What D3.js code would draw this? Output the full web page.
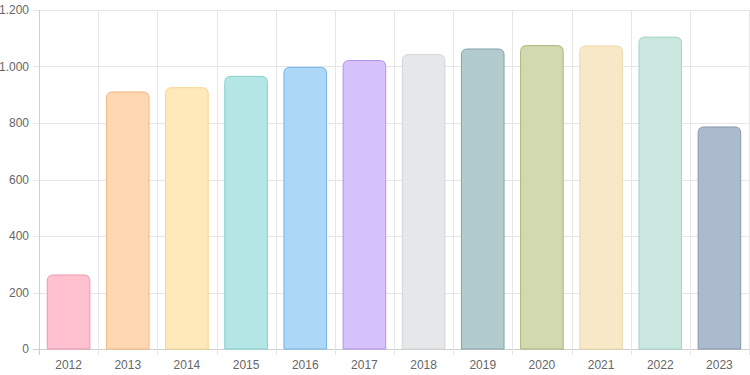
<!DOCTYPE html>
<html lang="de">
<head>
    <meta charset="UTF-8">
    <title>Balkendiagramm 2012-2023</title>
    <script src="https://cdnjs.cloudflare.com/ajax/libs/d3/7.8.5/d3.min.js"></script>
    <style>
        body {
            margin: 0;
            background: #fff;
            font-family: "Liberation Sans", Arial, sans-serif;
        }
        .tick text {
            fill: #666;
            font-size: 12px;
        }
    </style>
</head>
<body>
    <div id="chart"></div>
    <script>
        // Data
        const years = ["2012", "2013", "2014", "2015", "2016", "2017", "2018", "2019", "2020", "2021", "2022", "2023"];
        const values = [262, 910, 925, 965, 997, 1021, 1042, 1062, 1074, 1073, 1104, 786];
        const fills = ["#ffc1d0", "#ffd7b1", "#ffe8ba", "#b4e6e6", "#add7f7", "#d6c2fc", "#e6e7e9", "#b2cbcf", "#d3d9ae", "#f7e8c7", "#c9e6df", "#acbace"];
        const borders = ["#eb98ae", "#f3b884", "#f6d48e", "#85cfcf", "#74b5e8", "#ae92ec", "#d3d5d9", "#81a2a8", "#aab57f", "#efd9a6", "#a5d3c6", "#8596b1"];
        const yTicks = [0, 200, 400, 600, 800, 1000, 1200];

        const width = 750;
        const height = 375;
        const margin = { top: 10, right: 1, bottom: 26, left: 39 };

        const svg = d3.select("#chart")
            .append("svg")
            .attr("width", width)
            .attr("height", height);

        const x = d3.scaleBand()
            .domain(years)
            .range([margin.left, width - margin.right])
            .paddingInner(0.28)
            .paddingOuter(0.14);

        const y = d3.scaleLinear()
            .domain([0, 1200])
            .range([height - margin.bottom, margin.top]);

        // German number format: 1.000
        const de = d3.formatLocale({ decimal: ",", thousands: ".", grouping: [3], currency: ["", " €"] });
        const fmt = de.format(",d");

        // Category boundaries for vertical grid
        const step = x.step();
        const bounds = years.map((d, i) => margin.left + i * step).concat([width - margin.right]);

        // Horizontal grid
        svg.append("g")
            .selectAll("line")
            .data(yTicks)
            .enter()
            .append("line")
            .attr("x1", margin.left - 6)
            .attr("x2", width - margin.right)
            .attr("y1", d => Math.round(y(d)) + 0.5)
            .attr("y2", d => Math.round(y(d)) + 0.5)
            .attr("stroke", d => d === 0 ? "#cfcfcf" : "#e6e6e6");

        // Vertical grid
        svg.append("g")
            .selectAll("line")
            .data(bounds)
            .enter()
            .append("line")
            .attr("x1", d => Math.round(d) + 0.5)
            .attr("x2", d => Math.round(d) + 0.5)
            .attr("y1", margin.top)
            .attr("y2", height - margin.bottom + 6)
            .attr("stroke", (d, i) => i === 0 ? "#cfcfcf" : "#e6e6e6");

        // Y tick labels
        svg.append("g")
            .attr("transform", `translate(${margin.left},0)`)
            .call(d3.axisLeft(y).tickValues(yTicks).tickFormat(fmt).tickSize(0).tickPadding(10))
            .call(g => g.select(".domain").remove());

        // X tick labels
        svg.append("g")
            .attr("transform", `translate(0,${height - margin.bottom})`)
            .call(d3.axisBottom(x).tickSize(0).tickPadding(11))
            .call(g => g.select(".domain").remove());

        svg.selectAll(".tick text")
            .attr("font-family", "'Liberation Sans', Arial, sans-serif")
            .attr("font-size", 12);

        // Bars with rounded top corners
        function barPath(x0, y0, w, h, r) {
            r = Math.min(r, w / 2, h);
            return `M${x0},${y0 + h}V${y0 + r}Q${x0},${y0} ${x0 + r},${y0}H${x0 + w - r}Q${x0 + w},${y0} ${x0 + w},${y0 + r}V${y0 + h}Z`;
        }

        svg.append("g")
            .selectAll("path")
            .data(years)
            .enter()
            .append("path")
            .attr("d", (d, i) => {
                const bx = x(d);
                const by = y(values[i]);
                return barPath(bx, by, x.bandwidth(), y(0) - by, 6);
            })
            .attr("fill", (d, i) => fills[i])
            .attr("stroke", (d, i) => borders[i])
            .attr("stroke-width", 1);
    </script>
</body>
</html>
